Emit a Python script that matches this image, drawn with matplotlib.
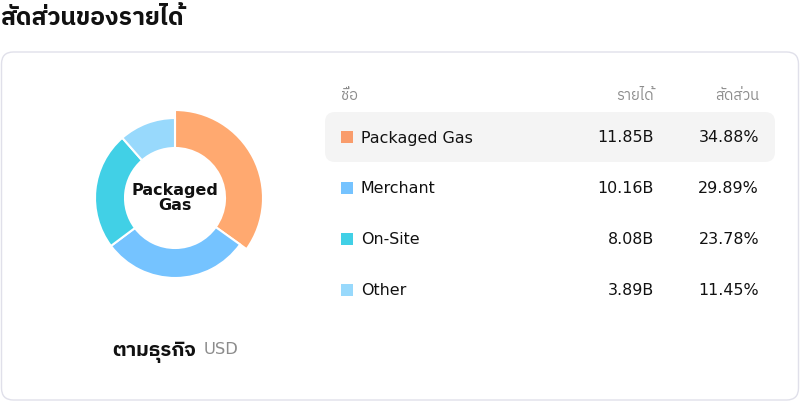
import matplotlib
matplotlib.use("Agg")
import matplotlib.pyplot as plt
from matplotlib import font_manager as fm
from matplotlib.patches import FancyBboxPatch

# data
segments = ["Packaged Gas", "Merchant", "On-Site", "Other"]
revenue = [11.85, 10.16, 8.08, 3.89]          # billions USD
share = [34.88, 29.89, 23.78, 11.45]          # percent
colors = ["#FFA970", "#75C3FF", "#41D0E6", "#98D9FC"]
swatch_colors = ["#F99C6B", "#75C3FF", "#41D0E6", "#98D9FC"]

title = "สัดส่วนของรายได้"
col_headers = ["ชื่อ", "รายได้", "สัดส่วน"]
subtitle = "ตามธุรกิจ"
unit = "USD"

# find a font that has Thai glyphs
thai_font = None
try:
    from fontTools.ttLib import TTFont
    cands = sorted(fm.fontManager.ttflist, key=lambda f: ("Thai" not in f.name, f.name))
    for f in cands:
        try:
            tt = TTFont(f.fname, fontNumber=0, lazy=True)
            if 0x0E2A in tt.getBestCmap():
                thai_font = f.name
                break
        except Exception:
            pass
except Exception:
    pass

families = ["DejaVu Sans"] + ([thai_font] if thai_font else [])
plt.rcParams["font.family"] = families

W, H = 800, 402
fig = plt.figure(figsize=(W / 100, H / 100), dpi=100)
ax = fig.add_axes([0, 0, 1, 1])


def Y(y):  # pixel row -> data y
    return H - y


# title and card
ax.text(0, Y(18), title, fontsize=17.7, fontweight="bold", va="center", ha="left", color="#111111")
card = FancyBboxPatch((1.5, Y(401)), 797, 348, boxstyle="round,pad=0,rounding_size=12",
                      fc="white", ec="#E0E0EA", lw=1)
ax.add_patch(card)

# donut
wedges, _ = ax.pie(revenue, colors=colors, startangle=90, counterclock=False,
                   center=(175, Y(199)), radius=80,
                   wedgeprops=dict(width=30, edgecolor="white", linewidth=1.5))
wedges[0].set_radius(88)
wedges[0].set_width(38)
ax.text(175, Y(198), "Packaged\nGas", ha="center", va="center", fontsize=11.5,
        fontweight="bold", color="#111111", linespacing=1.0)

# bottom caption
ax.text(112, Y(352), subtitle, fontsize=14.6, fontweight="bold", va="center", ha="left", color="#111111")
ax.text(204, Y(350), unit, fontsize=11.8, va="center", ha="left", color="#8C8C8C")

# table
hdr_y = Y(96)
ax.text(341, hdr_y, col_headers[0], fontsize=10.5, color="#8C8C8C", va="center", ha="left")
ax.text(654, hdr_y, col_headers[1], fontsize=10.5, color="#8C8C8C", va="center", ha="right")
ax.text(759, hdr_y, col_headers[2], fontsize=10.5, color="#8C8C8C", va="center", ha="right")

row_y0, row_dy = 138, 51
hl = FancyBboxPatch((325, Y(163)), 450, 50, boxstyle="round,pad=0,rounding_size=10",
                    fc="#F4F4F4", ec="none")
ax.add_patch(hl)
for i, name in enumerate(segments):
    yy = Y(row_y0 + i * row_dy)
    ax.add_patch(plt.Rectangle((341, yy - 6), 12, 12, fc=swatch_colors[i], ec="none"))
    ax.text(361, yy, name, fontsize=11.4, va="center", ha="left", color="#111111")
    ax.text(654, yy, f"{revenue[i]:.2f}B", fontsize=11.4, va="center", ha="right", color="#111111")
    ax.text(759, yy, f"{share[i]:.2f}%", fontsize=11.4, va="center", ha="right", color="#111111")

ax.set_xlim(0, W)
ax.set_ylim(0, H)
ax.set_aspect("auto")
ax.axis("off")

fig.savefig("out.png", dpi=100, facecolor="white")
